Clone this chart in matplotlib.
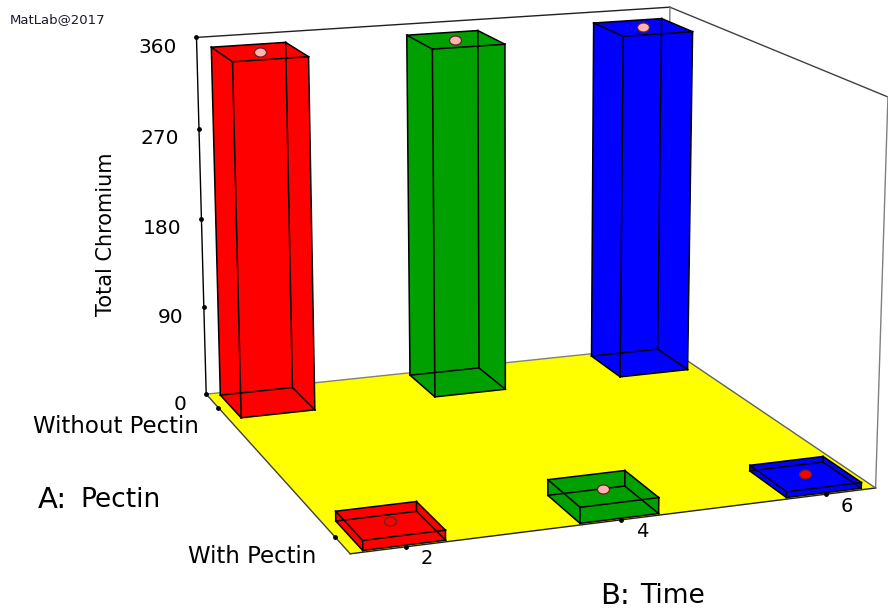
import numpy as np
import matplotlib
matplotlib.use('Agg')
import matplotlib.pyplot as plt
from matplotlib.path import Path
from mpl_toolkits.mplot3d.art3d import Poly3DCollection

# ---------------- data ----------------
times = [2, 4, 6]
pectin_levels = ["With Pectin", "Without Pectin"]
bar_colors = ["#FF0000", "#00A000", "#0000FF"]
pred_with = [9.1, 14.8, 5.4]
pred_without = [351.0, 350.3, 350.3]
obs_with = [9.1, 14.8, 5.4]
obs_without = [351.0, 350.3, 350.3]
dot_with = ["#FF0000", "#FFB4B4", "#FF0000"]
dot_without = ["#FFB4B4", "#FFB4B4", "#FFB4B4"]
z_ticks = [0, 90, 180, 270, 360]

# ---------------- view ----------------
W, H = 888, 613
ELEV, AZIM, ROLL = 14.5474, -110.2972, -0.0339
FOCAL = 0.68345
ASPECT = (1.0, 0.98316, 0.72626)
RECT = [0.12059, -0.09787, 0.91609, 1.32707]
XL, YL, ZL = (1.5, 6.5), (-0.11, 1.12), (0, 360)
BW, BD = 0.75, 0.2

fig = plt.figure(figsize=(W/100, H/100), dpi=100)
ax = fig.add_axes(RECT, projection='3d', proj_type='persp', focal_length=FOCAL,
                  computed_zorder=False)
ax.set_xlim(*XL); ax.set_ylim(*YL); ax.set_zlim(*ZL)
ax.set_box_aspect(ASPECT)
ax.view_init(elev=ELEV, azim=AZIM, roll=ROLL)
ax.set_axis_off()

x0, x1 = XL
y0, y1 = YL
z0, z1 = ZL

# yellow floor
floor = Poly3DCollection([[(x0, y0, 0), (x1, y0, 0), (x1, y1, 0), (x0, y1, 0)]],
                         facecolor='#FFFF00', edgecolor='none', zorder=1)
ax.add_collection3d(floor)

# box frame
frame = [((x0, y1, z0), (x0, y1, z1), 'black'), ((x0, y1, z1), (x1, y1, z1), '#202020'),
         ((x1, y1, z1), (x1, y0, z1), '#404040'), ((x1, y0, z1), (x1, y0, z0), '#808080'),
         ((x1, y1, z0), (x1, y1, z1), '#808080'),
         ((x0, y0, 0), (x1, y0, 0), '#202020'), ((x0, y0, 0), (x0, y1, 0), '#404040'),
         ((x1, y0, 0), (x1, y1, 0), '#606060'), ((x0, y1, 0), (x1, y1, 0), '#808080')]
for a_, b_, c_ in frame:
    ax.plot([a_[0], b_[0]], [a_[1], b_[1]], [a_[2], b_[2]], color=c_, lw=1.0, zorder=1.5)

# flattened disc marker for the observed points
ell = Path.unit_circle()
ell = Path(ell.vertices * np.array([1.0, 0.75]), ell.codes)


def draw_row(yc, vals, obs, dcols, zb):
    for t, v, o, c, dc in zip(times, vals, obs, bar_colors, dcols):
        xa, xb = t - BW/2, t + BW/2
        ya, yb = yc - BD/2, yc + BD/2
        ax.bar3d(xa, ya, 0, BW, BD, v, color=c, shade=False, zorder=zb)
        cs = [(xa, ya), (xb, ya), (xb, yb), (xa, yb)]
        for i in range(4):
            (p_, q_), (r_, s_) = cs[i], cs[(i+1) % 4]
            ax.plot([p_, r_], [q_, s_], [0, 0], color='black', lw=1.1, zorder=zb+0.1)
            ax.plot([p_, r_], [q_, s_], [v, v], color='black', lw=1.1, zorder=zb+0.1)
            ax.plot([p_, p_], [q_, q_], [0, v], color='black', lw=1.1, zorder=zb+0.1)
        ax.scatter([t], [yc], [o], marker=ell, s=75, color=dc, edgecolor='#6a2020',
                   linewidth=0.9, depthshade=False, zorder=zb+0.2)


draw_row(1.0, pred_without, obs_without, dot_without, 2)
draw_row(0.0, pred_with, obs_with, dot_with, 4)

Mf = ax.get_proj()


def p2(x, y, z):
    v = Mf @ np.array([x, y, z, 1.0])
    return v[0]/v[3], v[1]/v[3]


k = 0.72  # pixels -> points at 100 dpi
ax.scatter([x0]*len(z_ticks), [y1]*len(z_ticks), z_ticks, s=6, color='black',
           depthshade=False, zorder=6)
ax.scatter(times, [y0]*3, [0]*3, s=6, color='black', depthshade=False, zorder=6)
ax.scatter([x0]*2, [0, 1], [0, 0], s=6, color='black', depthshade=False, zorder=6)
for zt in z_ticks:
    ax.annotate(str(zt), xy=p2(x0, y1, zt), xytext=(-20*k, -10*k), textcoords='offset points',
                ha='right', va='center', fontsize=14.5, annotation_clip=False)
for t in times:
    ax.annotate(str(t), xy=p2(t, y0, 0), xytext=(21*k, -12*k), textcoords='offset points',
                ha='center', va='center', fontsize=14, annotation_clip=False)
for yi, lab in enumerate(pectin_levels):
    ax.annotate(lab, xy=p2(x0, yi, 0), xytext=(-19*k, -19*k), textcoords='offset points',
                ha='right', va='center', fontsize=16.5, annotation_clip=False)

fig.text(106/W, 1-234/H, "Total Chromium", rotation=90, ha='center', va='center', fontsize=15)
fig.text(10/W, 1-20/H, "MatLab@2017", ha='left', va='center', fontsize=9.5, color='#1a1a2e')
fig.text(38/W, 1-500/H, "A:", ha='left', va='center', fontsize=21)
fig.text(80/W, 1-500/H, "Pectin", ha='left', va='center', fontsize=19)
fig.text(600/W, 1-596/H, "B:", ha='left', va='center', fontsize=21)
fig.text(640/W, 1-596/H, "Time", ha='left', va='center', fontsize=19)

fig.savefig('out.png', dpi=100)
